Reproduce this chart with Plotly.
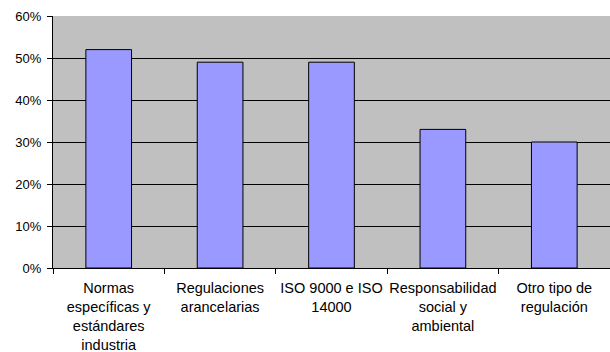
import plotly.graph_objects as go

categories = [
    "Normas<br>específicas y<br>estándares<br>industria",
    "Regulaciones<br>arancelarias",
    "ISO 9000 e ISO<br>14000",
    "Responsabilidad<br>social y<br>ambiental",
    "Otro tipo de<br>regulación",
]
values = [0.52, 0.49, 0.49, 0.33, 0.30]
y_ticks = [0, 0.1, 0.2, 0.3, 0.4, 0.5, 0.6]
y_labels = ["0%", "10%", "20%", "30%", "40%", "50%", "60%"]

fig = go.Figure(
    go.Bar(
        x=categories,
        y=values,
        width=0.41,
        marker=dict(color="#9999FF", line=dict(color="#000000", width=1)),
    )
)

fig.update_layout(
    width=610,
    height=352,
    margin=dict(l=53, r=0, t=16, b=84),
    paper_bgcolor="#FFFFFF",
    plot_bgcolor="#C0C0C0",
    font=dict(family="Liberation Sans, Arial, sans-serif", size=14, color="#000000"),
    showlegend=False,
)

fig.update_xaxes(
    type="category",
    automargin=False,
    tickson="boundaries",
    ticks="outside",
    ticklen=5,
    tickcolor="#000000",
    showline=True,
    linecolor="#000000",
    linewidth=1,
    showgrid=False,
    tickangle=0,
    tickfont=dict(size=14.5),
    ticklabelstandoff=7,
)

fig.update_yaxes(
    range=[0, 0.6],
    automargin=False,
    tickvals=y_ticks,
    ticktext=y_labels,
    ticks="outside",
    ticklen=5,
    tickcolor="#000000",
    showline=True,
    linecolor="#000000",
    linewidth=1,
    showgrid=True,
    gridcolor="#000000",
    gridwidth=1,
    zeroline=False,
    tickfont=dict(size=13),
    ticklabelstandoff=3,
)

fig.write_html("out.html")
